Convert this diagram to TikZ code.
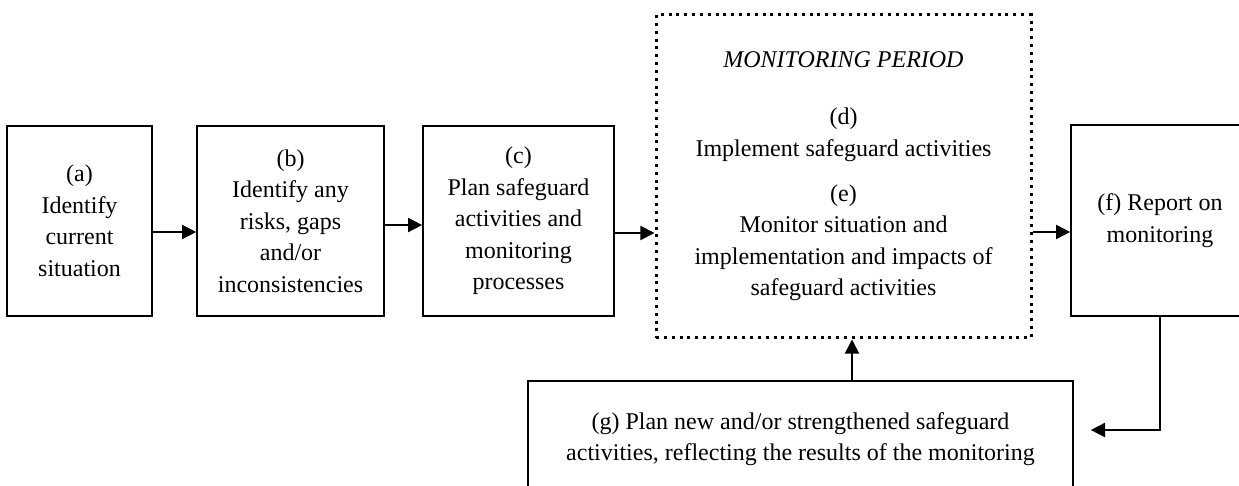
\documentclass[tikz,border=0pt]{standalone}
\usepackage{fontspec}
\setmainfont{Liberation Serif}
\usetikzlibrary{positioning, arrows.meta}
\tikzstyle{stepbox}=[draw, line width=1pt, align=center, inner sep=0pt, font=\fontsize{14.4}{18.9}\selectfont]
\tikzstyle{periodbox}=[stepbox, line width=1.8pt, dash pattern=on 1.8pt off 2.9pt]
\tikzstyle{flowarrow}=[-{Triangle[length=8.5pt,width=8.5pt]}, line width=1pt]

\begin{document}
\begin{tikzpicture}[x=0.6pt,y=-0.6pt]
        \useasboundingbox (0,0) rectangle (1239,486);

        \node[stepbox, minimum width=87pt, minimum height=114pt] (a) at (79.5,221)
            {(a)\\Identify\\current\\situation};
        \node[stepbox, minimum width=112.2pt, minimum height=114pt] (b) at (290.5,221)
            {(b)\\Identify any\\risks, gaps\\and/or\\inconsistencies};
        \node[stepbox, minimum width=114.6pt, minimum height=114pt] (c) at (518.5,221)
            {(c)\\Plan safeguard\\activities and\\monitoring\\processes};
        \node[periodbox, minimum width=225pt, minimum height=193.8pt] (mon) at (843.5,176.5)
            {\textit{MONITORING PERIOD}\\[15.3pt]
             (d)\\Implement safeguard activities\\[8.1pt]
             (e)\\Monitor situation and\\implementation and impacts of\\safeguard activities};
        \node[stepbox, minimum width=106.8pt, minimum height=114.6pt] (f) at (1160,220.5)
            {(f) Report on\\monitoring};
        \node[stepbox, minimum width=327pt, minimum height=69.6pt] (g) at (800.5,439)
            {(g) Plan new and/or strengthened safeguard\\activities, reflecting the results of the monitoring};

        \draw[flowarrow] ([yshift=-6.6pt]a.east) -- ([yshift=-6.6pt]b.west);
        \draw[flowarrow] ([yshift=-2.4pt]b.east) -- ([yshift=-2.4pt]c.west);
        \draw[flowarrow] ([yshift=-7.2pt]c.east) -- ([yshift=-7.2pt]c.east -| mon.west);
        \draw[flowarrow] ([yshift=-6.9pt]f.west -| mon.east) -- ([yshift=-6.9pt]f.west);
        \draw[flowarrow] (f.south) |- ([xshift=10.2pt,yshift=5.4pt]g.east);
        \draw[flowarrow] ([xshift=30.9pt]g.north) -- ([xshift=30.9pt]g.north |- mon.south);

\end{tikzpicture}
\end{document}
